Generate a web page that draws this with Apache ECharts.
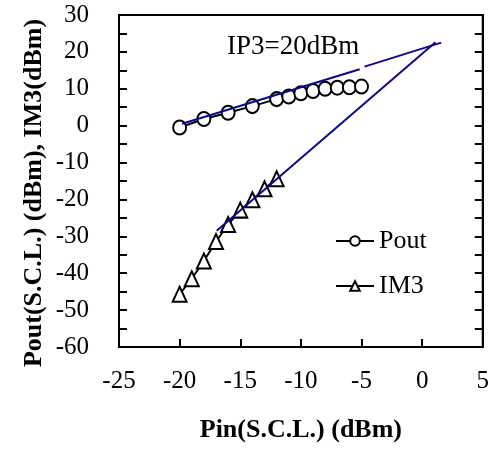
<!DOCTYPE html>
<html>
<head>
<meta charset="utf-8">
<script src="https://cdn.jsdelivr.net/npm/echarts@6/dist/echarts.min.js"></script>
<style>
  html, body { margin: 0; padding: 0; background: #fff; }
  #chart { width: 492px; height: 450px; }
</style>
</head>
<body>
<div id="chart"></div>
<script>
// measured points
const pinPout = [-20, -18, -16, -14, -12, -11, -10, -9, -8, -7, -6, -5]
const poutValues = [-0.5, 1.8, 3.5, 5.3, 7.2, 7.9, 8.8, 9.4, 10.0, 10.3, 10.4, 10.6]
const pinIm3 = [-20, -19, -18, -17, -16, -15, -14, -13, -12]
const im3Values = [-45.7, -41.5, -36.7, -31.4, -26.8, -22.9, -20.1, -17.1, -14.4]

// blue extrapolation lines
const poutFitLow = [[-19.8, 0.5], [-5.15, 15.3]]
const poutFitHigh = [[-4.75, 16.0], [1.57, 22.5]]
const im3Fit = [[-16.94, -28.5], [1.1, 22.6]]

// tick labels
const xTickLabels = [-25, -20, -15, -10, -5, 0, 5]
const yTickLabels = [-60, -50, -40, -30, -20, -10, 0, 10, 20, 30]

const serif = "'Liberation Serif', 'Times New Roman', serif"
const blue = '#0a0a8c'

const chart = echarts.init(document.getElementById('chart'))

function zip(xs, ys) {
  return xs.map((x, i) => [x, ys[i]])
}

const yAxisBase = {
  type: 'value',
  min: yTickLabels[0],
  max: yTickLabels[yTickLabels.length - 1],
  interval: 5,
  splitLine: { show: false },
  axisLine: { show: true, onZero: false, lineStyle: { color: '#000', width: 2 } },
  axisTick: { show: true, inside: true, length: 8, lineStyle: { color: '#000', width: 2 } }
}

const option = {
  backgroundColor: '#fff',
  animation: false,
  grid: {
    left: 119,
    right: 3,
    top: 15,
    bottom: 103,
    show: true,
    borderColor: '#000',
    borderWidth: 2
  },
  legend: {
    orient: 'vertical',
    left: 335,
    top: 228,
    padding: 0,
    itemWidth: 38,
    itemHeight: 12,
    itemGap: 19,
    textStyle: { fontFamily: serif, fontSize: 26, color: '#000' },
    data: ['Pout', 'IM3']
  },
  xAxis: {
    type: 'value',
    min: xTickLabels[0],
    max: xTickLabels[xTickLabels.length - 1],
    interval: 5,
    name: 'Pin(S.C.L.) (dBm)',
    nameLocation: 'middle',
    nameGap: 70,
    nameTextStyle: { fontFamily: serif, fontSize: 26, fontWeight: 'bold', color: '#000' },
    splitLine: { show: false },
    axisLine: { show: true, onZero: false, lineStyle: { color: '#000', width: 2 } },
    axisTick: { show: true, inside: true, length: 8, lineStyle: { color: '#000', width: 2 } },
    axisLabel: { fontFamily: serif, fontSize: 25, color: '#000', margin: 22 }
  },
  yAxis: [
    Object.assign({}, yAxisBase, {
      position: 'left',
      axisLabel: {
        fontFamily: serif,
        fontSize: 25,
        color: '#000',
        margin: 30,
        formatter: v => (yTickLabels.includes(v) ? String(v) : '')
      }
    }),
    Object.assign({}, yAxisBase, {
      position: 'right',
      axisLabel: { show: false }
    })
  ],
  graphic: [
    {
      type: 'text',
      x: 34,
      y: 193,
      rotation: Math.PI / 2,
      style: {
        text: 'Pout(S.C.L.) (dBm), IM3(dBm)',
        fontFamily: serif,
        fontSize: 26,
        fontWeight: 'bold',
        fill: '#000',
        align: 'center',
        verticalAlign: 'middle'
      }
    },
    {
      type: 'text',
      x: 227,
      y: 47,
      style: {
        text: 'IP3=20dBm',
        fontFamily: serif,
        fontSize: 27,
        fill: '#000',
        align: 'left',
        verticalAlign: 'middle'
      }
    }
  ],
  series: [
    {
      name: 'Pout',
      type: 'line',
      data: zip(pinPout, poutValues),
      symbol: 'circle',
      symbolSize: [13, 14],
      lineStyle: { color: '#000', width: 2 },
      itemStyle: { color: '#fff', borderColor: '#000', borderWidth: 2 },
      z: 2
    },
    {
      name: 'IM3',
      type: 'line',
      data: zip(pinIm3, im3Values),
      symbol: 'triangle',
      symbolSize: [14, 15],
      lineStyle: { color: '#000', width: 2 },
      itemStyle: { color: '#fff', borderColor: '#000', borderWidth: 2 },
      z: 2
    },
    {
      name: 'fitA',
      type: 'line',
      data: poutFitLow,
      symbol: 'none',
      lineStyle: { color: blue, width: 2 },
      z: 3
    },
    {
      name: 'fitB',
      type: 'line',
      data: poutFitHigh,
      symbol: 'none',
      lineStyle: { color: blue, width: 2 },
      z: 3
    },
    {
      name: 'fitC',
      type: 'line',
      data: im3Fit,
      symbol: 'none',
      lineStyle: { color: blue, width: 2 },
      z: 3
    }
  ]
}

chart.setOption(option)
</script>
</body>
</html>
